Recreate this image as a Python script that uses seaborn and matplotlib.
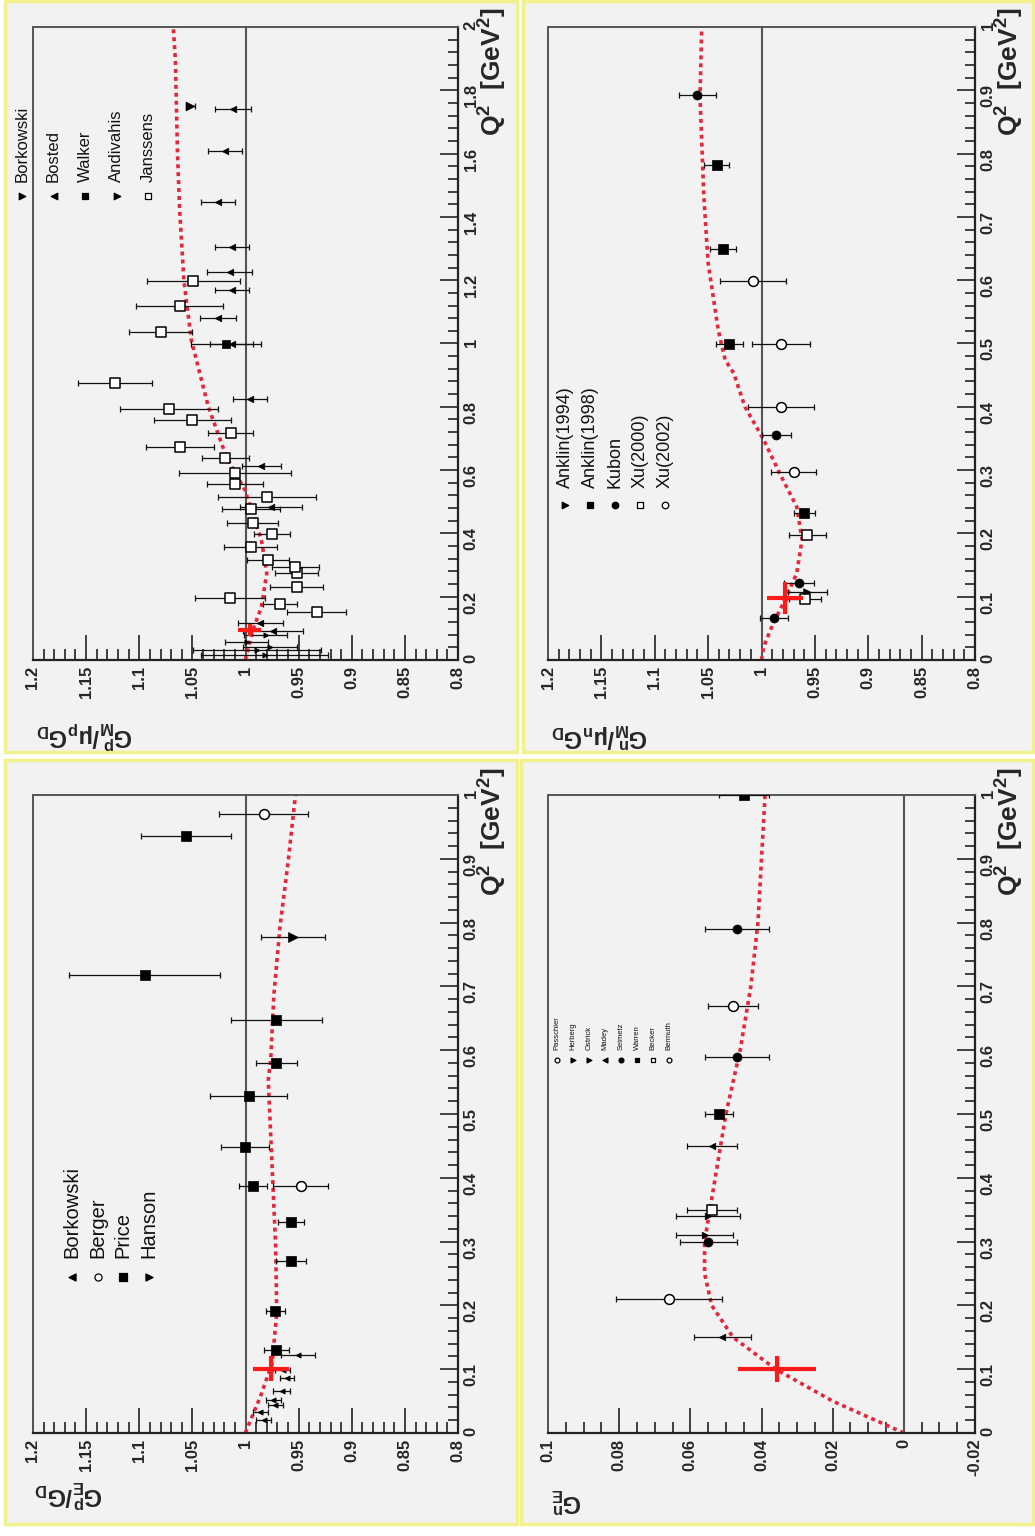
import matplotlib
matplotlib.use("Agg")
import matplotlib.pyplot as plt
import seaborn as sns
from matplotlib.ticker import MultipleLocator, FuncFormatter
from matplotlib.patches import Rectangle

# ---------------- data ----------------
# panel 1: G_M^p / (mu_p G_D)
mp_borkowski_q2 = [0.016, 0.032, 0.042, 0.058, 0.080]
mp_borkowski_val = [0.982, 0.989, 0.977, 0.999, 0.981]
mp_borkowski_err = [0.060, 0.060, 0.025, 0.020, 0.020]
mp_bosted_q2 = [0.093, 0.118, 0.484, 0.614, 0.825, 1.000, 1.080, 1.169, 1.227, 1.306, 1.448, 1.609, 1.740]
mp_bosted_val = [0.974, 0.986, 0.976, 0.985, 0.996, 1.013, 1.026, 1.013, 1.015, 1.013, 1.026, 1.019, 1.012]
mp_bosted_err = [0.028, 0.021, 0.029, 0.018, 0.016, 0.020, 0.017, 0.016, 0.021, 0.016, 0.016, 0.016, 0.017]
mp_walker_q2 = [1.000]
mp_walker_val = [1.018]
mp_walker_err = [0.033]
mp_andivahis_q2 = [1.750]
mp_andivahis_val = [1.052]
mp_andivahis_err = [0.004]
mp_janssens_q2 = [0.153, 0.176, 0.195, 0.232, 0.274, 0.295, 0.316, 0.356, 0.397, 0.434, 0.476, 0.516,
                  0.556, 0.592, 0.637, 0.674, 0.716, 0.758, 0.793, 0.876, 1.037, 1.118, 1.198]
mp_janssens_val = [0.933, 0.968, 1.015, 0.952, 0.952, 0.953, 0.979, 0.995, 0.975, 0.993, 0.995, 0.980,
                   1.010, 1.010, 1.019, 1.062, 1.014, 1.050, 1.072, 1.123, 1.080, 1.062, 1.049]
mp_janssens_err = [0.028, 0.016, 0.033, 0.025, 0.020, 0.022, 0.020, 0.025, 0.017, 0.024, 0.027, 0.046,
                   0.026, 0.053, 0.022, 0.032, 0.021, 0.036, 0.046, 0.035, 0.030, 0.041, 0.044]
mp_new = dict(q2=0.095, val=0.996, verr=0.011, q2err=0.02)
mp_fit_q2 = [0.0, 0.01, 0.095, 0.168, 0.274, 0.379, 0.537, 0.642, 0.80, 1.011, 1.2, 1.422, 1.6, 1.896, 2.0]
mp_fit_val = [1.0, 0.9995, 0.993, 0.985, 0.980, 0.985, 1.0005, 1.018, 1.035, 1.051, 1.058, 1.062, 1.064, 1.066, 1.068]

# panel 2: G_M^n / (mu_n G_D)
mn_anklin94_q2, mn_anklin94_val, mn_anklin94_err = [0.108], [0.957], [0.018]
mn_anklin98_q2 = [0.232, 0.500, 0.650, 0.782]
mn_anklin98_val = [0.960, 1.030, 1.036, 1.042]
mn_anklin98_err = [0.010, 0.013, 0.012, 0.012]
mn_kubon_q2 = [0.067, 0.121, 0.355, 0.893]
mn_kubon_val = [0.988, 0.965, 0.986, 1.060]
mn_kubon_err = [0.013, 0.014, 0.014, 0.017]
mn_xu2000_q2, mn_xu2000_val, mn_xu2000_err = [0.096, 0.197], [0.959, 0.957], [0.015, 0.017]
mn_xu2002_q2 = [0.297, 0.400, 0.499, 0.599]
mn_xu2002_val = [0.970, 0.982, 0.982, 1.008]
mn_xu2002_err = [0.021, 0.031, 0.027, 0.031]
mn_new = dict(q2=0.0975, val=0.978, verr=0.017, q2err=0.025)
mn_fit_q2 = [0.0, 0.021, 0.058, 0.095, 0.137, 0.19, 0.242, 0.295, 0.348, 0.40, 0.453, 0.474, 0.521, 0.627, 0.732, 0.89, 1.0]
mn_fit_val = [1.0, 0.998, 0.989, 0.978, 0.967, 0.962, 0.967, 0.983, 0.998, 1.0155, 1.026, 1.034, 1.0405, 1.050, 1.054, 1.0576, 1.056]

# panel 3: G_E^p / G_D
ep_borkowski_q2 = [0.020, 0.033, 0.044, 0.052, 0.066, 0.086, 0.099, 0.122]
ep_borkowski_val = [0.983, 0.986, 0.972, 0.974, 0.966, 0.961, 0.965, 0.951]
ep_borkowski_err = [0.007, 0.007, 0.007, 0.007, 0.008, 0.007, 0.007, 0.016]
ep_berger_q2, ep_berger_val, ep_berger_err = [0.387, 0.971], [0.948, 0.983], [0.026, 0.042]
ep_price_q2 = [0.130, 0.192, 0.270, 0.330, 0.387, 0.449, 0.528, 0.580, 0.648, 0.718, 0.936]
ep_price_val = [0.971, 0.972, 0.957, 0.957, 0.993, 1.0005, 0.997, 0.971, 0.971, 1.095, 1.056]
ep_price_err = [0.012, 0.009, 0.014, 0.012, 0.013, 0.023, 0.036, 0.019, 0.043, 0.071, 0.042]
ep_hanson_q2, ep_hanson_val, ep_hanson_err = [0.778], [0.955], [0.030]
ep_new = dict(q2=0.101, val=0.976, verr=0.017, q2err=0.02)
ep_fit_q2 = [0.0, 0.005, 0.057, 0.109, 0.188, 0.292, 0.397, 0.553, 0.585, 0.689, 0.794, 0.898, 1.0]
ep_fit_val = [1.0, 0.999, 0.986, 0.975, 0.9706, 0.9716, 0.9744, 0.9786, 0.9763, 0.9732, 0.9675, 0.9597, 0.953]

# panel 4: G_E^n
en_passchier_q2, en_passchier_val, en_passchier_err = [0.21], [0.066], [0.015]
en_herberg_q2, en_herberg_val, en_herberg_err = [0.34], [0.055], [0.009]
en_ostrick_q2, en_ostrick_val, en_ostrick_err = [0.31], [0.056], [0.008]
en_madey_q2, en_madey_val, en_madey_err = [0.15, 0.45], [0.051, 0.054], [0.008, 0.007]
en_seimetz_q2, en_seimetz_val, en_seimetz_err = [0.30, 0.59, 0.79], [0.055, 0.047, 0.047], [0.008, 0.009, 0.009]
en_warren_q2, en_warren_val, en_warren_err = [0.50, 1.00], [0.052, 0.045], [0.004, 0.007]
en_becker_q2, en_becker_val, en_becker_err = [0.35], [0.054], [0.007]
en_bermuth_q2, en_bermuth_val, en_bermuth_err = [0.67], [0.048], [0.007]
en_new = dict(q2=0.10, val=0.0356, verr=0.011, q2err=0.02)
en_fit_q2 = [0.0, 0.05, 0.10, 0.15, 0.20, 0.25, 0.30, 0.40, 0.50, 0.60, 0.70, 0.80, 0.90, 1.00]
en_fit_val = [0.0, 0.020, 0.036, 0.048, 0.054, 0.056, 0.056, 0.053, 0.050, 0.046, 0.043, 0.041, 0.040, 0.039]

# ---------------- styling ----------------
sns.set_theme(style="white")
plt.rcParams["font.family"] = ["Liberation Sans", "DejaVu Sans"]
plt.rcParams["mathtext.fontset"] = "custom"
plt.rcParams["mathtext.rm"] = "Liberation Sans"
plt.rcParams["mathtext.it"] = "Liberation Sans:italic"
plt.rcParams["mathtext.bf"] = "Liberation Sans:bold"
plt.rcParams["mathtext.default"] = "bf"

W, H = 1035, 1536
PAD_FILL = "#f2f2f2"
PAD_EDGE = "#f2f28c"
FIT_RED = "#e3283e"
NEW_RED = "#ff1a1a"

fig = plt.figure(figsize=(W / 100, H / 100), dpi=100, facecolor="white")

# pads (canvas background) in pixel coordinates
bg = fig.add_axes([0, 0, 1, 1], zorder=0)
bg.set_xlim(0, W)
bg.set_ylim(H, 0)
bg.axis("off")
for (x0, y0, x1, y1) in [(5, 1, 517, 752), (523, 1, 1033, 752), (5, 760, 517, 1524), (521, 760, 1033, 1524)]:
    bg.add_patch(Rectangle((x0, y0), x1 - x0, y1 - y0, facecolor=PAD_FILL, edgecolor=PAD_EDGE, lw=2.5))

over = fig.add_axes([0, 0, 1, 1], zorder=3)
over.set_xlim(0, W)
over.set_ylim(H, 0)
over.axis("off")
over.patch.set_alpha(0)


def frame(px0, py0, px1, py1):
    return [px0 / W, 1 - py1 / H, (px1 - px0) / W, (py1 - py0) / H]


fmt = FuncFormatter(lambda v, p: "%g" % round(v, 4))


def setup(ax, vlo, vhi, vmaj, vmin, qmax, qmaj, qmin, ref):
    ax.set_facecolor("none")
    ax.set_xlim(vhi, vlo)
    ax.set_ylim(0, qmax)
    ax.axvline(ref, color="#555555", lw=1.5, zorder=1)
    ax.xaxis.set_major_locator(MultipleLocator(vmaj))
    ax.xaxis.set_minor_locator(MultipleLocator(vmin))
    ax.yaxis.set_major_locator(MultipleLocator(qmaj))
    ax.yaxis.set_minor_locator(MultipleLocator(qmin))
    ax.xaxis.set_major_formatter(fmt)
    ax.yaxis.set_major_formatter(fmt)
    ax.yaxis.tick_right()
    ax.tick_params(axis="x", which="both", direction="in", bottom=True, top=False, width=1.2, color="#222")
    ax.tick_params(axis="x", which="major", length=18, labelrotation=90, labelsize=12, pad=4)
    ax.tick_params(axis="x", which="minor", length=8)
    ax.tick_params(axis="y", which="both", direction="in", right=True, left=False, width=1.2, color="#222")
    ax.tick_params(axis="y", which="major", length=13, labelrotation=90, labelsize=12, pad=4)
    ax.tick_params(axis="y", which="minor", length=7)
    for lab in ax.get_xticklabels() + ax.get_yticklabels():
        lab.set_fontweight("bold")
    for side in ["bottom", "right"]:
        ax.spines[side].set_color("#222")
        ax.spines[side].set_linewidth(1.6)
    for side in ["top", "left"]:
        ax.spines[side].set_color("#555")
        ax.spines[side].set_linewidth(1.4)
    ax.set_xlabel("")
    ax.set_ylabel("")


def series(ax, q2, val, err, marker, size=36, open_=False, lw=0.9):
    ax.errorbar(val, q2, xerr=err, fmt="none", ecolor="#111", elinewidth=lw, capsize=2, capthick=lw, zorder=3)
    sns.scatterplot(x=val, y=q2, marker=marker, s=size, ax=ax, zorder=4,
                    color="white" if open_ else "black", edgecolor="black", linewidth=1.1 if open_ else 0.5)


def fit(ax, q2, val):
    sns.lineplot(x=val, y=q2, orient="y", sort=False, estimator=None, errorbar=None, ax=ax,
                 color=FIT_RED, lw=2.6, linestyle=(0, (1.1, 1.1)), zorder=2)


def new_point(ax, d):
    ax.errorbar([d["val"]], [d["q2"]], xerr=[d["verr"]], yerr=[d["q2err"]], fmt="o", ms=4,
                color=NEW_RED, ecolor=NEW_RED, elinewidth=3, capsize=0, zorder=5)


def legend(items, x0, dx, ymark, ytext, fs, msize):
    for i, (label, marker, open_) in enumerate(items):
        x = x0 + i * dx
        over.scatter([x], [ymark], marker=marker, s=msize, color="white" if open_ else "black",
                     edgecolor="black", linewidth=0.9)
        over.text(x, ytext, label, rotation=90, ha="center", va="bottom", fontsize=fs, color="#111")


# ---------- panel 1: G_M^p ----------
ax1 = fig.add_axes(frame(33, 27, 458, 660), zorder=1)
setup(ax1, 0.8, 1.2, 0.05, 0.01, 2.0, 0.2, 0.04, 1.0)
fit(ax1, mp_fit_q2, mp_fit_val)
series(ax1, mp_borkowski_q2, mp_borkowski_val, mp_borkowski_err, ">", size=14)
series(ax1, mp_janssens_q2, mp_janssens_val, mp_janssens_err, "s", size=60, open_=True)
series(ax1, mp_bosted_q2, mp_bosted_val, mp_bosted_err, "<", size=22)
series(ax1, mp_walker_q2, mp_walker_val, mp_walker_err, "s", size=40)
series(ax1, mp_andivahis_q2, mp_andivahis_val, mp_andivahis_err, ">", size=40)
new_point(ax1, mp_new)
legend([("Borkowski", ">", False), ("Bosted", "<", False), ("Walker", "s", False),
        ("Andivahis", ">", False), ("Janssens", "s", True)], 22, 31.5, 196, 182, 12, 22)
over.text(493, 8, "Q$^{2}$  [GeV$^{2}$]", rotation=90, ha="center", va="top", fontsize=19, fontweight="bold")
over.text(36, 735, r"$G^{p}_{M}/\mu_{p}G_{D}$", rotation=180, ha="left", va="center", fontsize=17)

# ---------- panel 2: G_M^n ----------
ax2 = fig.add_axes(frame(548, 27, 975, 660), zorder=1)
setup(ax2, 0.8, 1.2, 0.05, 0.01, 1.0, 0.1, 0.02, 1.0)
fit(ax2, mn_fit_q2, mn_fit_val)
series(ax2, mn_anklin94_q2, mn_anklin94_val, mn_anklin94_err, ">", size=30)
series(ax2, mn_anklin98_q2, mn_anklin98_val, mn_anklin98_err, "s", size=50)
series(ax2, mn_kubon_q2, mn_kubon_val, mn_kubon_err, "o", size=42)
series(ax2, mn_xu2000_q2, mn_xu2000_val, mn_xu2000_err, "s", size=55, open_=True)
series(ax2, mn_xu2002_q2, mn_xu2002_val, mn_xu2002_err, "o", size=50, open_=True)
new_point(ax2, mn_new)
legend([("Anklin(1994)", ">", False), ("Anklin(1998)", "s", False), ("Kubon", "o", False),
        ("Xu(2000)", "s", True), ("Xu(2002)", "o", True)], 565, 25, 505, 488, 13, 22)
over.text(1010, 8, "Q$^{2}$  [GeV$^{2}$]", rotation=90, ha="center", va="top", fontsize=19, fontweight="bold")
over.text(551, 735, r"$G^{n}_{M}/\mu_{n}G_{D}$", rotation=180, ha="left", va="center", fontsize=17)

# ---------- panel 3: G_E^p ----------
ax3 = fig.add_axes(frame(33, 795, 458, 1433), zorder=1)
setup(ax3, 0.8, 1.2, 0.05, 0.01, 1.0, 0.1, 0.02, 1.0)
fit(ax3, ep_fit_q2, ep_fit_val)
series(ax3, ep_borkowski_q2, ep_borkowski_val, ep_borkowski_err, "<", size=14)
series(ax3, ep_berger_q2, ep_berger_val, ep_berger_err, "o", size=50, open_=True)
series(ax3, ep_price_q2, ep_price_val, ep_price_err, "s", size=50)
series(ax3, ep_hanson_q2, ep_hanson_val, ep_hanson_err, ">", size=50)
new_point(ax3, ep_new)
legend([("Borkowski", "<", False), ("Berger", "o", True), ("Price", "s", False),
        ("Hanson", ">", False)], 72, 25.5, 1277, 1258, 14.5, 26)
over.text(493, 768, "Q$^{2}$  [GeV$^{2}$]", rotation=90, ha="center", va="top", fontsize=19, fontweight="bold")
over.text(34, 1494, r"$G^{p}_{E}/G_{D}$", rotation=180, ha="left", va="center", fontsize=17)

# ---------- panel 4: G_E^n ----------
ax4 = fig.add_axes(frame(548, 795, 975, 1433), zorder=1)
setup(ax4, -0.02, 0.1, 0.02, 0.005, 1.0, 0.1, 0.02, 0.0)
fit(ax4, en_fit_q2, en_fit_val)
series(ax4, en_passchier_q2, en_passchier_val, en_passchier_err, "o", size=50, open_=True)
series(ax4, en_herberg_q2, en_herberg_val, en_herberg_err, ">", size=22)
series(ax4, en_ostrick_q2, en_ostrick_val, en_ostrick_err, ">", size=22)
series(ax4, en_madey_q2, en_madey_val, en_madey_err, "<", size=22)
series(ax4, en_seimetz_q2, en_seimetz_val, en_seimetz_err, "o", size=42)
series(ax4, en_warren_q2, en_warren_val, en_warren_err, "s", size=50)
series(ax4, en_becker_q2, en_becker_val, en_becker_err, "s", size=50, open_=True)
series(ax4, en_bermuth_q2, en_bermuth_val, en_bermuth_err, "o", size=50, open_=True)
new_point(ax4, en_new)
legend([("Passchier", "o", True), ("Herberg", ">", False), ("Ostrick", ">", False),
        ("Madey", "<", False), ("Seimetz", "o", False), ("Warren", "s", False),
        ("Becker", "s", True), ("Bermuth", "o", True)], 557, 16, 1060, 1050, 5.5, 12)
over.text(1010, 768, "Q$^{2}$  [GeV$^{2}$]", rotation=90, ha="center", va="top", fontsize=19, fontweight="bold")
over.text(551, 1500, r"$G^{n}_{E}$", rotation=180, ha="left", va="center", fontsize=17)

fig.savefig("out.png", dpi=100, facecolor="white")
